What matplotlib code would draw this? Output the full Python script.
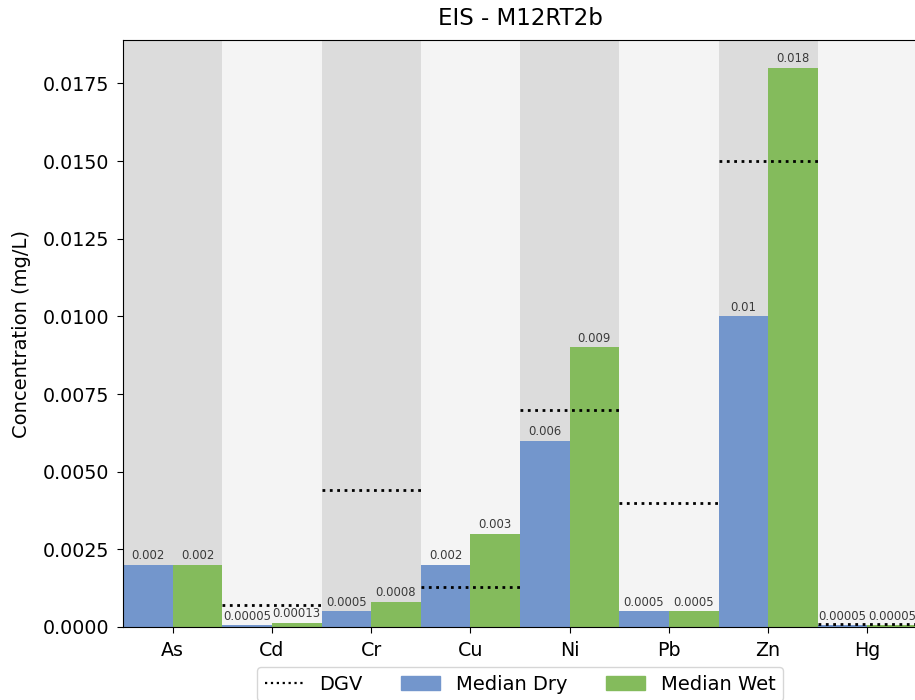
import matplotlib.pyplot as plt
import numpy as np
from matplotlib.lines import Line2D
from matplotlib.patches import Patch

metals = ["As", "Cd", "Cr", "Cu", "Ni", "Pb", "Zn", "Hg"]
median_dry = [0.002, 0.00005, 0.0005, 0.002, 0.006, 0.0005, 0.01, 0.00005]
median_wet = [0.002, 0.00013, 0.0008, 0.003, 0.009, 0.0005, 0.018, 0.00005]
dgv = [np.nan, 0.0007, 0.0044, 0.0013, 0.007, 0.004, 0.015, 0.0001]
dry_labels = ["0.002", "0.00005", "0.0005", "0.002", "0.006", "0.0005", "0.01", "0.00005"]
wet_labels = ["0.002", "0.00013", "0.0008", "0.003", "0.009", "0.0005", "0.018", "0.00005"]

c_dry = "#7396cc"
c_wet = "#84bb5c"

fig = plt.figure(figsize=(9.15, 7.0), dpi=100)
ax = fig.add_axes([123 / 915, 73 / 700, 794 / 915, 587 / 700])

x = np.arange(len(metals))
w = 0.5

# alternating background bands per metal
for i in x:
    ax.axvspan(i - 0.5, i + 0.5, color="#dcdcdc" if i % 2 == 0 else "#f4f4f4", zorder=0, lw=0)

b1 = ax.bar(x - w / 2, median_dry, w, color=c_dry, zorder=2)
b2 = ax.bar(x + w / 2, median_wet, w, color=c_wet, zorder=2)
ax.bar_label(b1, labels=dry_labels, fontsize=8.4, color="#3a3a3a", padding=2)
ax.bar_label(b2, labels=wet_labels, fontsize=8.4, color="#3a3a3a", padding=2)

# guideline values
for i, v in enumerate(dgv):
    if not np.isnan(v):
        ax.hlines(v, i - 0.5, i + 0.5, colors="black", linestyles=":", linewidth=2, zorder=3)

ax.set_xlim(-0.5, len(metals) - 0.5)
ax.set_ylim(0, 0.0189)
yt = np.arange(0, 0.0176, 0.0025)
ax.set_xticks(x)
ax.set_xticklabels(metals, fontsize=13.7)
ax.set_yticks(yt)
ax.set_yticklabels([f"{t:.4f}" for t in yt], fontsize=13.7)
ax.tick_params(length=4.5, pad=5.5)
ax.set_ylabel("Concentration (mg/L)", fontsize=14, labelpad=8)
ax.set_title("EIS - M12RT2b", fontsize=16.5, pad=11)

handles = [Line2D([0], [0], color="black", linestyle=":", linewidth=1.6),
           Patch(color=c_dry), Patch(color=c_wet)]
fig.legend(handles, ["DGV", "Median Dry", "Median Wet"], loc="upper center",
           bbox_to_anchor=(520 / 915, 1 - 657 / 700), ncol=3, fontsize=14)

fig.savefig("out.png", dpi=100)
